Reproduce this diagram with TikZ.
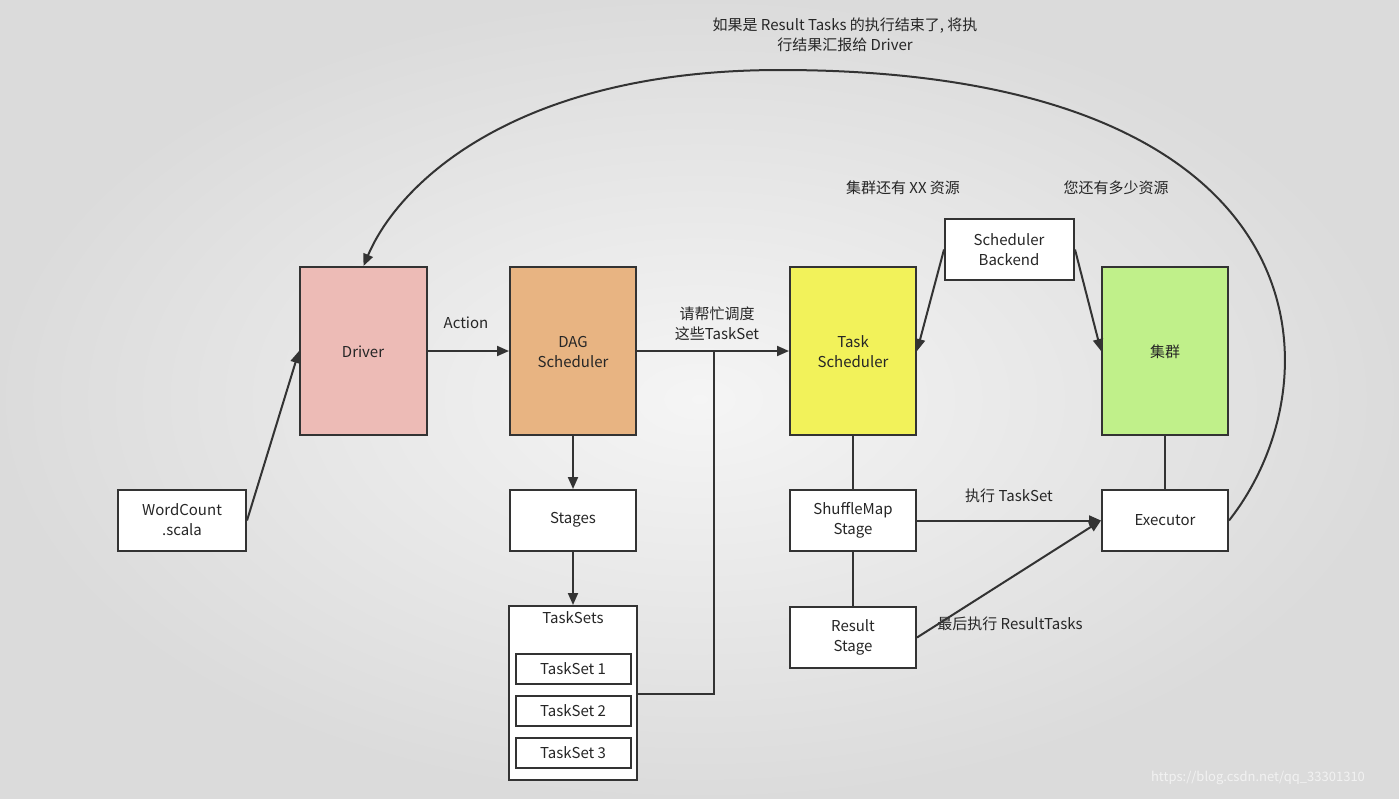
\documentclass[tikz,border=0pt]{standalone}
\usepackage{fontspec}
\setmainfont{Noto Sans CJK SC}
\usetikzlibrary{arrows.meta}
\definecolor{drv}{HTML}{EDBBB6}
\definecolor{dag}{HTML}{E8B482}
\definecolor{tsk}{HTML}{F2F25A}
\definecolor{clu}{HTML}{C0F08A}
\definecolor{ln}{HTML}{333333}
\begin{document}
\begin{tikzpicture}[x=1pt,y=-1pt,
  box/.style={draw=ln,line width=2pt,fill=white,align=center,inner sep=0pt},
  lbl/.style={font=\fontsize{15}{20}\selectfont,align=center,text=black!85},
  arr/.style={draw=ln,line width=2pt,-{Triangle[length=12pt,width=10pt]}},
  con/.style={draw=ln,line width=2pt}]
\shade[inner color=gray!8,outer color=gray!28] (0,0) rectangle (1399,798);
\useasboundingbox (0,0) rectangle (1399,798);
\newcommand{\bx}[6]{\node[box,fill=#6,minimum width=#4pt-#2pt,minimum height=#5pt-#3pt] (#1) at ({(#2+#4)/2},{(#3+#5)/2}) {};}
\bx{drv}{300}{267}{427}{435}{drv}
\bx{dag}{510}{267}{636}{435}{dag}
\bx{tsch}{790}{267}{916}{435}{tsk}
\bx{clu}{1102}{267}{1228}{435}{clu}
\bx{sb}{945}{219}{1074}{280}{white}
\bx{wc}{118}{490}{246}{551}{white}
\bx{st}{510}{490}{636}{551}{white}
\bx{ts}{509}{606}{637}{780}{white}
\bx{t1}{516}{654}{631}{684}{white}
\bx{t2}{516}{696}{631}{726}{white}
\bx{t3}{516}{738}{631}{768}{white}
\bx{sm}{790}{490}{916}{551}{white}
\bx{rs}{790}{607}{916}{668}{white}
\bx{ex}{1102}{490}{1228}{551}{white}
\node[lbl] at (363,352) {Driver};
\node[lbl] at (573,352) {DAG\\Scheduler};
\node[lbl] at (853,352) {Task\\Scheduler};
\node[lbl] at (1165,352) {集群};
\node[lbl] at (1009,250) {Scheduler\\Backend};
\node[lbl] at (182,520) {WordCount\\.scala};
\node[lbl] at (573,520) {Stages};
\node[lbl] at (573,618) {TaskSets};
\node[lbl] at (573,669) {TaskSet 1};
\node[lbl] at (573,711) {TaskSet 2};
\node[lbl] at (573,753) {TaskSet 3};
\node[lbl] at (853,520) {ShuffleMap\\Stage};
\node[lbl] at (853,637) {Result\\Stage};
\node[lbl] at (1165,520) {Executor};
\node[lbl] at (466,323) {Action};
\node[lbl] at (717,324) {请帮忙调度\\这些TaskSet};
\node[lbl] at (903,188) {集群还有 XX 资源};
\node[lbl] at (1116,188) {您还有多少资源};
\node[lbl] at (1009,496) {执行 TaskSet};
\node[lbl] at (1010,624) {最后执行 ResultTasks};
\node[lbl] at (845,35) {如果是 Result Tasks 的执行结束了, 将执\\行结果汇报给 Driver};
\node[font=\fontsize{13}{15}\selectfont,text=white!90!gray] at (1258,778) {https://blog.csdn.net/qq\_33301310};
\coordinate (j) at (714,352);
\draw[arr] (wc.east) -- (drv.west);
\draw[arr] (drv.east) -- (dag.west);
\draw[arr] (dag.east) -- (tsch.west);
\draw[con] (ts.east |- 0,694) -| (j);
\draw[arr] (dag.south) -- (st.north);
\draw[arr] (st.south) -- (ts.north);
\draw[con] (tsch.south) -- (sm.north);
\draw[con] (sm.south) -- (rs.north);
\draw[con] (clu.south) -- (ex.north);
\draw[arr] (sb.west) -- (tsch.east);
\draw[arr] (sb.east) -- (clu.west);
\draw[arr] (sm.east) -- (ex.west);
\draw[arr] (rs.east) -- (ex.west);
\draw[arr] (ex.east) .. controls (1340,380) and (1330,70) .. (780,70) .. controls (520,70) and (400,180) .. (drv.north);
\end{tikzpicture}
\end{document}
